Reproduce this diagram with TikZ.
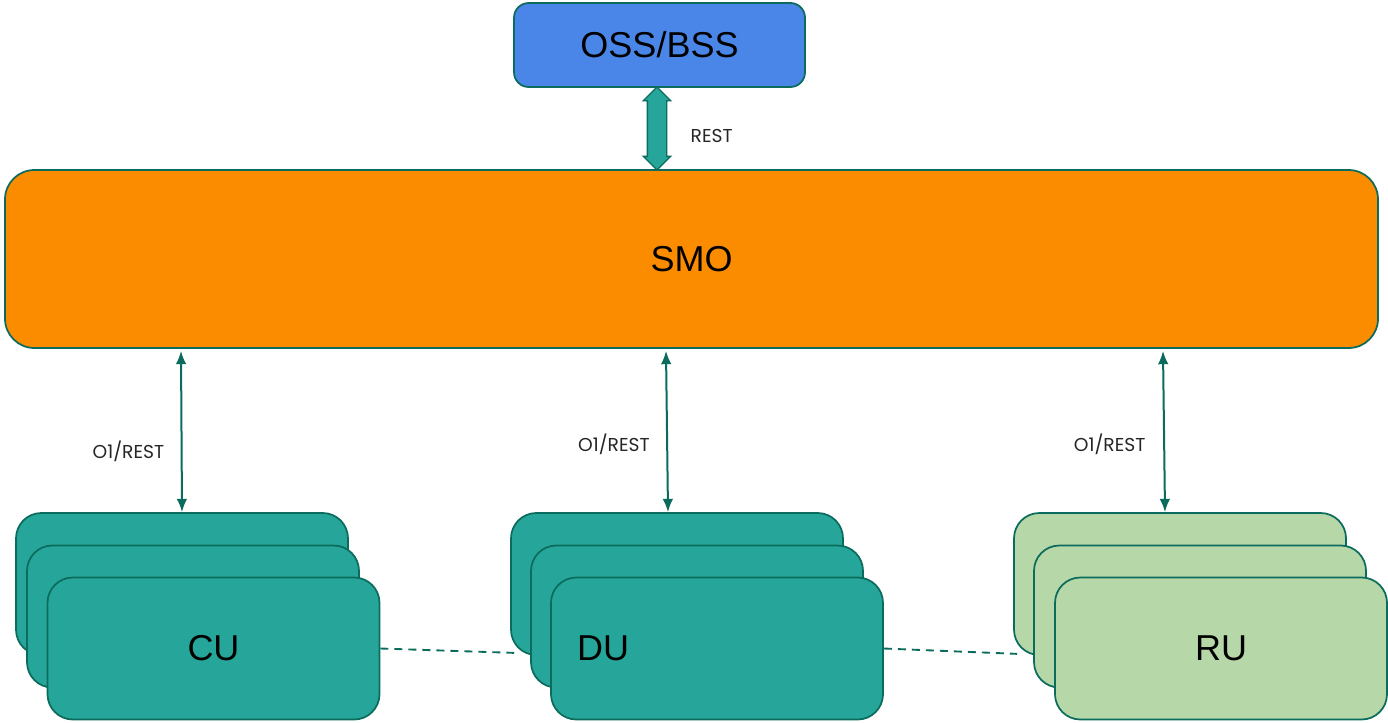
\documentclass[tikz,border=0pt]{standalone}
\usepackage{fontspec}
\setmainfont{Liberation Sans}
\newfontfamily\labelfont{Poppins}
\usetikzlibrary{arrows.meta,
                backgrounds,
                calc,
                positioning,
                shapes.arrows
            }

\definecolor{edgeteal}{HTML}{0B6B5D}
\definecolor{ossblue}{HTML}{4A86E8}
\definecolor{smoorange}{HTML}{FB8C00}
\definecolor{unitteal}{HTML}{26A69A}
\definecolor{rugreen}{HTML}{B6D7A8}

\begin{document}
\begin{tikzpicture}[x=0.75pt, y=-0.75pt,
        box/.style={draw=edgeteal, line width=1.3pt, font=\fontsize{27}{30}\selectfont},
        card/.style={box, rounded corners=19pt, minimum width=249pt, minimum height=106.5pt},
        iface/.style={edgeteal, line width=1.5pt, {Latex[length=10pt,width=8pt]}-{Latex[length=10pt,width=8pt]}},
        tag/.style={font=\labelfont\fontsize{14}{16}\selectfont, text=black!85},
        xlink/.style={edgeteal, line width=1.4pt, dash pattern=on 6pt off 4.5pt}]
                \useasboundingbox (0,0) rectangle (1388,722);

                % Management layer
                \node (oss) [box, fill=ossblue, rounded corners=11pt, minimum width=218.25pt, minimum height=63pt] at (659.5,45) {OSS/BSS};
                \node (smo) [box, fill=smoorange, rounded corners=22pt, minimum width=1029.75pt, minimum height=133.5pt] at (691.5,259) {SMO};

                % Northbound link
                \node (rest) [double arrow, draw=edgeteal, fill=unitteal, line width=1pt, rotate=90, inner xsep=0pt, inner ysep=6.75pt,
                              minimum height=62.25pt, minimum width=19.5pt, double arrow head extend=3pt]
                              at ($(oss.south)!0.5!(oss.south |- smo.north) + (-2.5,0)$) {};
                \node [tag, anchor=west] at ($(rest.center)+(29,7)$) {REST};

                % CU stack
                \node (cu3) [card, fill=unitteal] at (182,584) {};
                \node (cu2) [card, fill=unitteal] at (193,616.5) {};
                \node (cu1) [card, fill=unitteal] at (213.5,648.5) {CU};

                % DU stack
                \node (du3) [card, fill=unitteal] at (677,584) {};
                \node (du2) [card, fill=unitteal] at (697,616.5) {};
                \node (du1) [card, fill=unitteal, text width=210pt, inner xsep=19.5pt, align=left] at (717,648.5) {DU};

                % RU stack
                \node (ru3) [card, fill=rugreen] at (1180,584) {};
                \node (ru2) [card, fill=rugreen] at (1200,616.5) {};
                \node (ru1) [card, fill=rugreen] at (1221,648.5) {RU};

                % O1 interfaces
                \draw [iface] ($(smo.south -| cu3.north)+(-1,2)$) -- (cu3.north) node [tag, pos=0.62, left=9pt] {O1/REST};
                \draw [iface] ($(smo.south -| du3.north)+(-11,2)$) -- ($(du3.north)+(-9,0)$) node [tag, pos=0.58, left=9pt] {O1/REST};
                \draw [iface] ($(smo.south -| ru3.north)+(-17,2)$) -- ($(ru3.north)+(-15,0)$) node [tag, pos=0.58, left=10pt] {O1/REST};

                % Fronthaul / midhaul
                \begin{scope}[on background layer]
                    \draw [xlink] (cu1.east) -- ($(du3.south west)+(4,-3)$);
                    \draw [xlink] (du1.east) -- ($(ru3.south west)+(4,-2)$);
                \end{scope}
            \end{tikzpicture}
\end{document}
